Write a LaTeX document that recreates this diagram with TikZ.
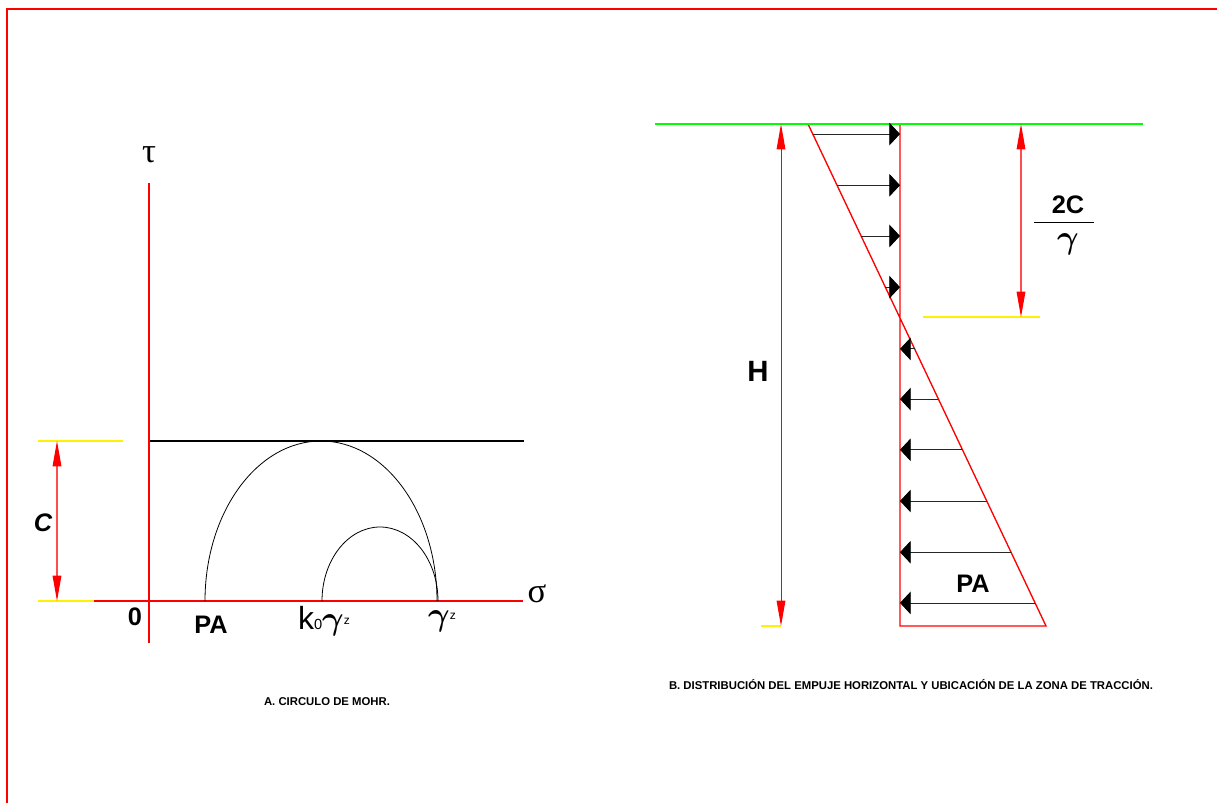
\documentclass[tikz,border=0pt]{standalone}
\usepackage{bm}
\usepackage{fontspec}
\newfontfamily\lblfont{Liberation Sans}
\newfontfamily\grkfont{Liberation Serif}
\usetikzlibrary{arrows.meta,calc}

\begin{document}
\begin{tikzpicture}[
  x=0.75pt, y=-0.75pt,
  frame/.style={draw=red, line width=1.5pt},
  axis/.style={draw=red, line width=1.6pt},
  wall/.style={draw=red, line width=1pt},
  ext/.style={draw=yellow, line width=0.8pt},
  dim/.style={draw=red!70, line width=0.8pt,
              {Triangle[length=19pt,width=6.5pt,color=red]}-{Triangle[length=19pt,width=6.5pt,color=red]}},
  push/.style={draw=black!85, line width=0.6pt, -{Triangle[length=8pt,width=17pt,color=black]}},
  lbl/.style={inner sep=0pt, font=\lblfont\bfseries\fontsize{19}{19}\selectfont},
  grk/.style={inner sep=0pt, font=\grkfont\fontsize{26}{26}\selectfont},
  titlecap/.style={inner sep=0pt, font=\lblfont\bfseries\fontsize{8.5}{9}\selectfont}
]
\useasboundingbox (0,0) rectangle (1217,803);
\draw[frame] (7,803) -- (7,9) -- (1217,9);

% circulo de Mohr
\coordinate (O) at (149,601);
\coordinate (tautop) at (149,183);
\coordinate (taubot) at (149,643);
\coordinate (sigl) at (94,601);
\coordinate (sigr) at (523,601);
\coordinate (cl) at (150,441);
\coordinate (cr) at (524,441);
\coordinate (pa) at (205,601);
\coordinate (k0) at (322,601);
\draw[axis] (tautop) -- (taubot);
\draw[axis] (sigl) -- (sigr);
\draw[black, line width=1.1pt] (cl) -- (cr);
\draw[black, line width=0.6pt] (pa) arc[start angle=180, end angle=360, x radius=116, y radius=160];
\draw[black, line width=0.6pt] (k0) arc[start angle=180, end angle=360, x radius=58, y radius=74];
\coordinate (ctop) at (57,441);
\coordinate (cbot) at (57,601);
\draw[ext] (38,441) -- (123,441);
\draw[ext] (38,601) -- (sigl);
\draw[dim] (ctop) -- (cbot);

\node[grk] (tau) at (149,155) {τ};
\node[grk] (sigma) at (537,594) {σ};
\node[lbl, font=\lblfont\bfseries\itshape\fontsize{19}{19}\selectfont] (c) at (43,523) {C};
\node[lbl] (zero) at (135,617) {0};
\node[lbl] (pal) at (211,625) {PA};
\node[inner sep=0pt] (kgz) at (324,621)
  {\lblfont\fontsize{24}{24}\selectfont k\fontsize{11}{11}\selectfont 0\fontsize{25}{25}\selectfont$\bm{\gamma}$\raisebox{4pt}{\lblfont\fontsize{9}{9}\selectfont z}};
\node[inner sep=0pt] (gz) at (442,621)
  {\fontsize{25}{25}\selectfont$\bm{\gamma}$\raisebox{4pt}{\lblfont\fontsize{9}{9}\selectfont z}};
\node[titlecap] (capa) at (327,702) {A. CIRCULO DE MOHR.};

% empuje horizontal
\coordinate (gl) at (655,124);
\coordinate (gr) at (1143,124);
\coordinate (crest) at (808,124);
\coordinate (toe) at (1046,626);
\coordinate (walltop) at (900,124);
\coordinate (wallbot) at (900,626);
\draw[wall] (walltop) -- (wallbot) -- (toe) -- (crest);
\draw[green, line width=1.1pt] (gl) -- (gr);

\foreach \f in {0.02,0.122,0.223,0.325}
  \draw[push] ($(crest)!\f!(toe)$) coordinate (p) -- (p -| walltop);
\foreach \f in {0.448,0.548,0.649,0.751,0.853,0.954}
  \draw[push] ($(crest)!\f!(toe)$) coordinate (p) -- (p -| walltop);

\coordinate (htop) at (781,124);
\coordinate (hbot) at (781,626);
\draw[ext] (761,626) -- (hbot);
\draw[draw=red, line width=0.75pt,
  {Triangle[length=19pt,width=6.5pt]}-{Triangle[length=19pt,width=6.5pt]}] (htop) -- (hbot);
\node[lbl, font=\lblfont\bfseries\fontsize{22}{22}\selectfont] (h) at (758,371) {H};

\coordinate (ttop) at (1021,124);
\coordinate (tbot) at (1021,317);
\draw[ext] (923,317) -- (1040,317);
\draw[dim] (ttop) -- (tbot);
\node[lbl] (twoc) at (1068,205) {2C};
\draw[black, line width=0.6pt] (1034,222) -- (1094,222);
\node[inner sep=0pt, font=\fontsize{24}{24}\selectfont] (gam) at (1068,244) {$\bm{\gamma}$};

\node[lbl] (par) at (973,584) {PA};
\node[titlecap] (capb) at (911,685) {B. DISTRIBUCIÓN DEL EMPUJE HORIZONTAL Y UBICACIÓN DE LA ZONA DE TRACCIÓN.};
\end{tikzpicture}
\end{document}
